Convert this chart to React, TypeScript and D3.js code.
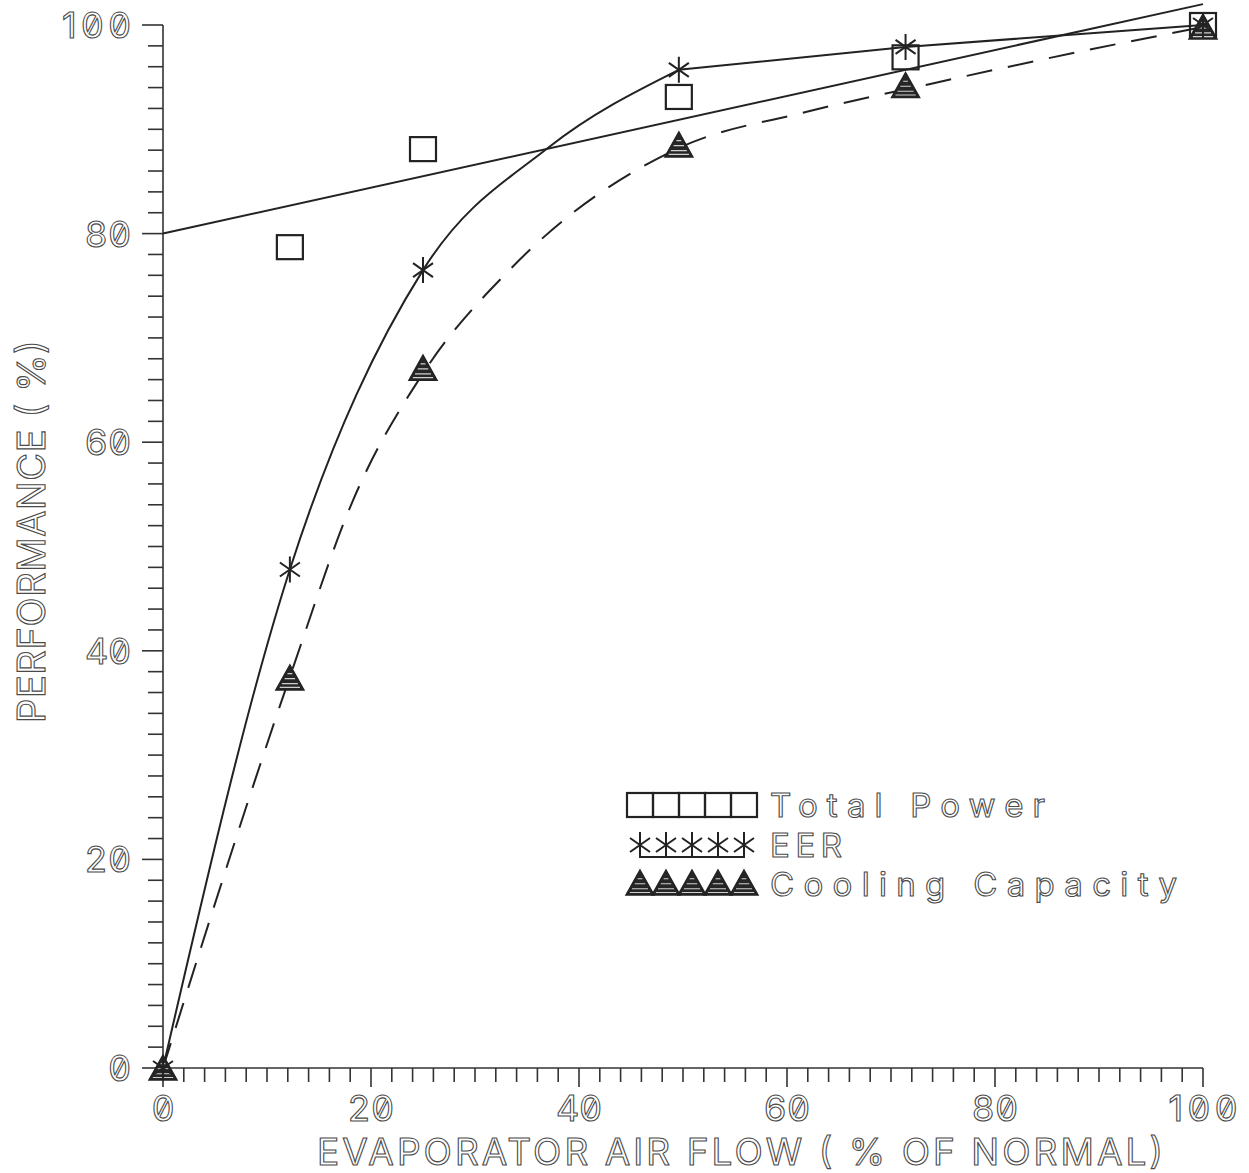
import React from "react";
import * as d3 from "d3";

// ---- data ----
const powerX = [12.2, 25, 49.6, 71.4, 100];
const powerY = [78.7, 88.1, 93.1, 96.9, 100];
const powerFitX = [0, 100];
const powerFitY = [80, 102];

const eerX = [0, 12.2, 25, 49.6, 71.4, 100];
const eerY = [0, 47.8, 76.5, 95.7, 97.9, 100];
const eerCurveX = [0, 12.2, 25, 37, 49.6];
const eerCurveY = [0, 47.8, 76.5, 88.2, 95.7];
const eerLineX = [49.6, 71.4, 100];
const eerLineY = [95.7, 97.9, 100];

const capX = [0, 12.2, 25, 49.6, 71.4, 100];
const capY = [0, 37.4, 67.1, 88.5, 94.2, 99.8];
const capCurveX = [0, 12.2, 18.3, 25, 33.6, 49.6, 62, 74, 88.9, 100];
const capCurveY = [0, 37.5, 54.5, 66.6, 76.8, 88.2, 91.7, 94.4, 97.6, 99.8];

const majorTicks = [0, 20, 40, 60, 80, 100];
const tickLabels = ["0", "20", "40", "60", "80", "100"];
const minorTicks = d3.range(0, 101, 2);

const xTitle = "EVAPORATOR AIR FLOW ( % OF NORMAL)";
const yTitle = "PERFORMANCE ( %)";
const legendLabels = ["Total Power", "EER", "Cooling Capacity"];

const W = 1249;
const H = 1173;
const INK = "#222";
const TEXT = "#4a4a4a";
const FONT = "Inter, 'DejaVu Sans', sans-serif";

const x = d3.scaleLinear().domain([0, 100]).range([163, 1203]);
const y = d3.scaleLinear().domain([0, 100]).range([1068, 25]);

const zip = (xs: number[], ys: number[]) => xs.map((v, i) => [v, ys[i]] as [number, number]);

const lineLinear = d3
  .line<[number, number]>()
  .x((d) => x(d[0]))
  .y((d) => y(d[1]));
const lineSmooth = d3
  .line<[number, number]>()
  .x((d) => x(d[0]))
  .y((d) => y(d[1]))
  .curve(d3.curveMonotoneX);

const textStyle: React.CSSProperties = {
  fontFamily: FONT,
  fontFeatureSettings: "'zero' 1",
  fill: "none",
  stroke: TEXT,
  strokeWidth: 1.1,
};

function Square({ cx, cy }: { cx: number; cy: number }) {
  return <rect x={cx - 13} y={cy - 12} width={26} height={24} fill="none" stroke={INK} strokeWidth={2.2} />;
}

function Star({ cx, cy }: { cx: number; cy: number }) {
  const d = `M${cx},${cy - 13}L${cx},${cy + 13}M${cx - 10},${cy - 7}L${cx + 10},${cy + 7}M${cx - 10},${cy + 7}L${cx + 10},${cy - 7}`;
  return <path d={d} stroke={INK} strokeWidth={2} fill="none" />;
}

function Triangle({ cx, cy }: { cx: number; cy: number }) {
  const top = cy - 13;
  const bot = cy + 12;
  const half = 14;
  const hatch = [0.35, 0.55, 0.75, 0.9].map((t) => {
    const yy = top + t * (bot - top);
    const w = half * t - 2.5;
    return `M${cx - w},${yy}L${cx + w},${yy}`;
  });
  return (
    <g>
      <path d={`M${cx},${top}L${cx + half},${bot}L${cx - half},${bot}Z`} fill="#262626" stroke={INK} strokeWidth={1.5} />
      <path d={hatch.join("")} stroke="#cfcfcf" strokeWidth={1.2} />
    </g>
  );
}

export default function App() {
  const legendX0 = 627;
  const legendCenters = [0, 1, 2, 3, 4].map((i) => legendX0 + 13 + i * 26);
  return (
    <svg width={W} height={H} style={{ position: "absolute", left: 0, top: 0, background: "#fff" }}>
      {/* axes */}
      <g stroke="#333" strokeWidth={1.6} fill="none">
        <line x1={x(0)} x2={x(0)} y1={y(0)} y2={y(100)} />
        <line x1={x(0)} x2={x(100)} y1={y(0)} y2={y(0)} />
        {minorTicks.map((t) => {
          const major = t % 20 === 0;
          return (
            <g key={t}>
              <line x1={x(0) - (major ? 21 : 15)} x2={x(0)} y1={y(t)} y2={y(t)} />
              <line x1={x(t)} x2={x(t)} y1={y(0)} y2={y(0) + (major ? 19 : 14)} />
            </g>
          );
        })}
      </g>
      {/* tick labels */}
      {majorTicks.map((t, i) => (
        <text
          key={"yl" + t}
          x={131}
          y={y(t) + 13}
          textAnchor="end"
          fontSize={36}
          textLength={tickLabels[i].length * 23}
          lengthAdjust="spacing"
          style={textStyle}
        >
          {tickLabels[i]}
        </text>
      ))}
      {majorTicks.map((t, i) => (
        <text
          key={"xl" + t}
          x={x(t)}
          y={1121}
          textAnchor="middle"
          fontSize={36}
          textLength={tickLabels[i].length * 23}
          lengthAdjust="spacing"
          style={textStyle}
        >
          {tickLabels[i]}
        </text>
      ))}
      {/* axis titles */}
      <text x={317} y={1165} fontSize={37} textLength={846} lengthAdjust="spacing" style={textStyle}>
        {xTitle}
      </text>
      <text
        transform={`translate(45,723) rotate(-90)`}
        x={0}
        y={0}
        fontSize={38}
        textLength={383}
        lengthAdjust="spacing"
        style={textStyle}
      >
        {yTitle}
      </text>

      {/* lines */}
      <g fill="none" stroke={INK} strokeWidth={2}>
        <path d={lineLinear(zip(powerFitX, powerFitY)) || ""} />
        <path d={lineSmooth(zip(eerCurveX, eerCurveY)) || ""} />
        <path d={lineLinear(zip(eerLineX, eerLineY)) || ""} />
        <path d={lineSmooth(zip(capCurveX, capCurveY)) || ""} strokeDasharray="26 16" />
      </g>

      {/* markers */}
      {powerX.map((v, i) => (
        <Square key={"p" + i} cx={x(v)} cy={y(powerY[i])} />
      ))}
      {capX.map((v, i) => (
        <Triangle key={"c" + i} cx={x(v)} cy={y(capY[i])} />
      ))}
      {eerX.map((v, i) => (
        <Star key={"e" + i} cx={x(v)} cy={y(eerY[i])} />
      ))}

      {/* legend */}
      <g>
        {legendCenters.map((c, i) => (
          <Square key={"ls" + i} cx={c} cy={805} />
        ))}
        <line x1={legendCenters[0]} x2={legendCenters[4]} y1={857} y2={857} stroke={INK} strokeWidth={2} />
        {legendCenters.map((c, i) => (
          <Star key={"le" + i} cx={c} cy={845} />
        ))}
        {legendCenters.map((c, i) => (
          <Triangle key={"lt" + i} cx={c} cy={883} />
        ))}
        <text x={770} y={817} fontSize={33} textLength={275} lengthAdjust="spacing" style={textStyle}>
          {legendLabels[0]}
        </text>
        <text x={770} y={857} fontSize={33} textLength={72} lengthAdjust="spacing" style={textStyle}>
          {legendLabels[1]}
        </text>
        <text x={770} y={896} fontSize={33} textLength={407} lengthAdjust="spacing" style={textStyle}>
          {legendLabels[2]}
        </text>
      </g>
    </svg>
  );
}
